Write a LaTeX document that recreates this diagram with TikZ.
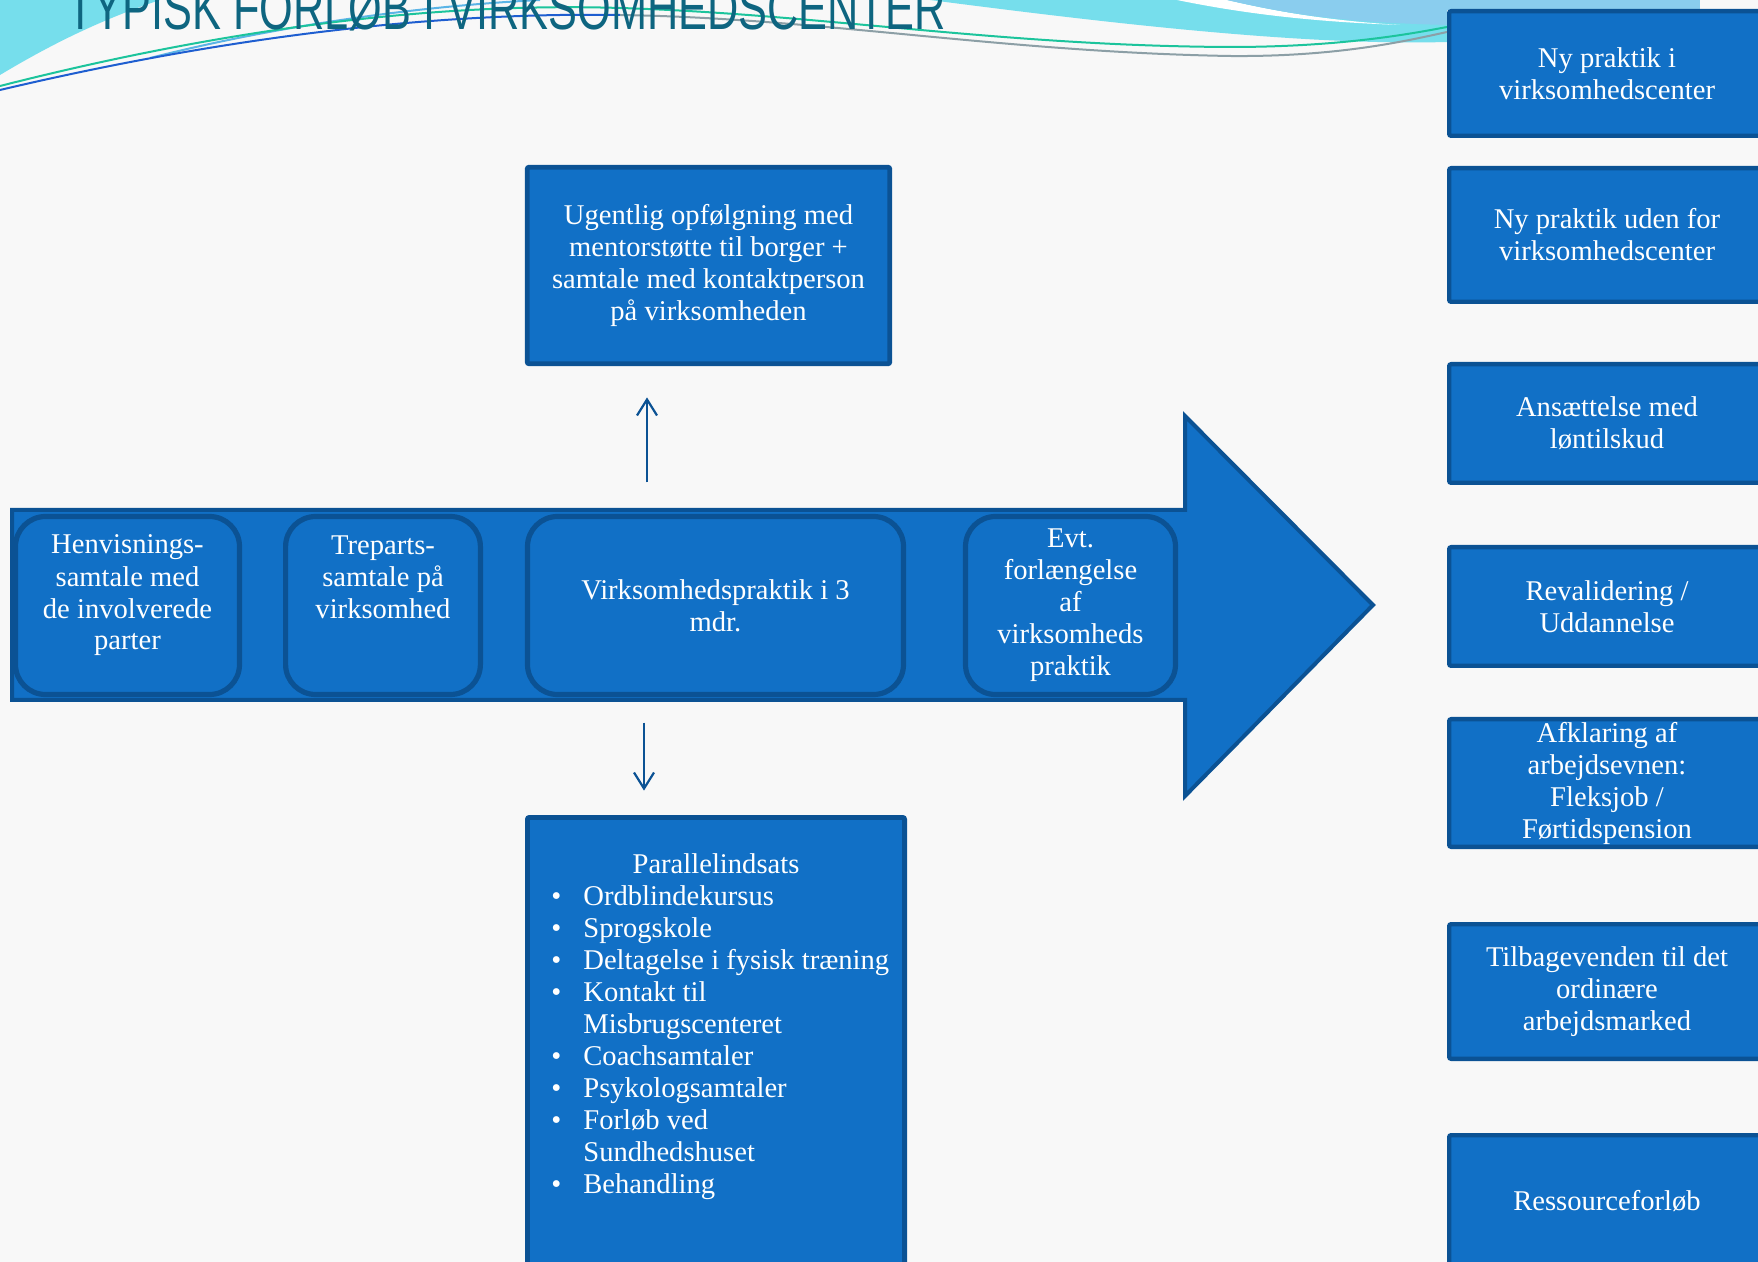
\documentclass[tikz,border=0pt]{standalone}
\usepackage{graphicx}
\usepackage{fontspec}
\setmainfont{Liberation Serif}
\newfontfamily\titlefont{Liberation Sans}
\usetikzlibrary{arrows.meta,positioning}

\definecolor{boxblue}{HTML}{1170C6}
\definecolor{edgeblue}{HTML}{0B5294}
\definecolor{titleteal}{HTML}{0E6580}
\definecolor{swoosh}{HTML}{76DEEC}
\definecolor{skyblue}{HTML}{8ACDEE}
\definecolor{thinblue}{HTML}{5AB4E6}
\definecolor{linegreen}{HTML}{1CC49C}
\definecolor{lineblue}{HTML}{1E5ED0}
\definecolor{linegrey}{HTML}{8C9FA6}
\definecolor{paper}{HTML}{F8F8F8}

\newcommand\boxfont{\fontsize{14.3}{16}\selectfont}
\newcommand\bul{\makebox[16pt][l]{\textbullet}}
\newcommand\nobul{\hspace*{16pt}}

\tikzset{
  stage/.style={draw=edgeblue, fill=boxblue, line width=2.6pt, rounded corners=15pt,
    minimum height=89pt, inner sep=0pt, text=white, align=center, font=\boxfont},
  panel/.style={draw=edgeblue, fill=boxblue, line width=2.4pt, rounded corners=1pt,
    inner sep=0pt, text=white, align=center, font=\boxfont},
  result/.style={panel, line width=2.2pt, minimum width=157.8pt},
  boxtext/.style={text=white, align=center, inner sep=0pt, font=\boxfont},
  flow/.style={draw=edgeblue, line width=1.1pt, -{Straight Barb[length=8pt,width=10pt]}},
}

\begin{document}
\begin{tikzpicture}[x=0.5pt,y=-0.5pt]
\fill[paper] (0,0) rectangle (1758,1262);
\useasboundingbox (0,0) rectangle (1758,1262);

\fill[swoosh] (0,0) -- (0,75) .. controls (50,45) and (100,20) .. (160,0) -- cycle;
\fill[swoosh] (930,0) .. controls (1100,22) and (1300,46) .. (1447,42) -- (1447,0) -- cycle;
\fill[white] (1177,0) .. controls (1250,15) and (1320,22) .. (1400,25) .. controls (1320,20) and (1270,10) .. (1227,0) -- cycle;
\fill[skyblue] (1227,0) .. controls (1280,12) and (1330,22) .. (1447,25) -- (1447,0) -- cycle;
\fill[skyblue] (1447,0) rectangle (1700,10);
\draw[thinblue, line width=1pt] (150,58) .. controls (280,25) and (420,6) .. (540,0);
\draw[linegreen, line width=1pt] (0,86) .. controls (220,30) and (430,2) .. (620,8)
  .. controls (820,14) and (1000,46) .. (1230,47) .. controls (1340,47) and (1410,34) .. (1447,27);
\draw[lineblue, line width=1pt] (0,90) .. controls (220,38) and (430,12) .. (620,15);
\draw[linegrey, line width=1pt] (620,15) .. controls (820,18) and (1000,52) .. (1230,56)
  .. controls (1340,57) and (1410,40) .. (1447,32);

\node[anchor=base west, inner sep=0pt, text=titleteal, font=\titlefont] (title) at (67,30)
  {\resizebox{439pt}{22pt}{TYPISK FORLØB I VIRKSOMHEDSCENTER}};

\draw[draw=edgeblue, fill=boxblue, line width=2pt] (12,510) -- (1185,510) -- (1185,416)
  -- (1373,605) -- (1185,796) -- (1185,700) -- (12,700) -- cycle;

\node[stage, minimum width=112pt] (hen) at (127.5,605.5) {};
\node[stage, minimum width=97.4pt] (tre) at (383,605.5) {};
\node[stage, minimum width=188pt] (vp) at (715.5,605.5) {Virksomhedspraktik i 3\\mdr.};
\node[stage, minimum width=105pt] (evt) at (1070.5,605.5) {Evt.\\forlængelse\\af\\virksomheds\\praktik};
\node[boxtext, anchor=base] (hentext) at (127.5,650) {Henvisnings-\\samtale med\\de involverede\\parter};
\node[boxtext, anchor=base] (tretext) at (383,618) {Treparts-\\samtale på\\virksomhed};

\node[panel, minimum width=181.3pt, minimum height=98.3pt] (ug) at (708.5,265.5)
  {Ugentlig opfølgning med\\mentorstøtte til borger +\\samtale med kontaktperson\\på virksomheden};
\node[panel, minimum width=188.6pt, minimum height=240.1pt] (par) at (716,1057.5) {};
\node[boxtext, anchor=base] (partitle) at (716,873) {Parallelindsats};
\node[boxtext, align=left, anchor=base west] (parlist) at (551,1193) {%
  \bul Ordblindekursus\\
  \bul Sprogskole\\
  \bul Deltagelse i fysisk træning\\
  \bul Kontakt til\\
  \nobul Misbrugscenteret\\
  \bul Coachsamtaler\\
  \bul Psykologsamtaler\\
  \bul Forløb ved\\
  \nobul Sundhedshuset\\
  \bul Behandling};

\coordinate (upx) at (647,0);
\coordinate (downx) at (644,0);
\draw[flow, shorten <=15.7pt, shorten >=15.6pt] (vp.north -| upx) -- (ug.south -| upx);
\draw[flow, shorten <=12.7pt, shorten >=12.2pt] (vp.south -| downx) -- (par.north -| downx);

\node[result, minimum height=62.3pt] (r1) at (1607,73.5) {Ny praktik i\\virksomhedscenter};
\node[result, minimum height=66.8pt] (r2) at (1607,235) {Ny praktik uden for\\virksomhedscenter};
\node[result, minimum height=59.3pt] (r3) at (1607,423.5) {Ansættelse med\\løntilskud};
\node[result, minimum height=59.3pt] (r4) at (1607,606.5) {Revalidering /\\Uddannelse};
\node[result, minimum height=63.8pt] (r5) at (1607,783) {Afklaring af\\arbejdsevnen:\\Fleksjob /\\Førtidspension};
\node[result, minimum height=67.3pt] (r6) at (1607,991.5) {Tilbagevenden til det\\ordinære\\arbejdsmarked};
\node[result, minimum height=65.8pt] (r7) at (1607,1201) {Ressourceforløb};
\end{tikzpicture}
\end{document}
